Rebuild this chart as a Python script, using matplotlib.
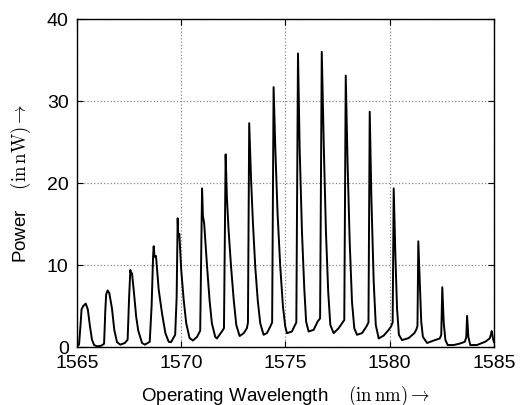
import matplotlib
matplotlib.use('Agg')
import matplotlib.pyplot as plt

plt.rcParams['font.family'] = ['Liberation Sans', 'DejaVu Sans']
plt.rcParams['mathtext.fontset'] = 'cm'

# measured spectrum: wavelength (nm) and power (nW)
wavelength = [
    1565.00, 1565.10, 1565.18, 1565.22, 1565.30, 1565.42, 1565.52, 1565.62, 1565.72, 1565.82,
    1565.96, 1566.15, 1566.30, 1566.36, 1566.40, 1566.47, 1566.55, 1566.68, 1566.79, 1566.92,
    1567.08, 1567.30, 1567.43, 1567.50, 1567.56, 1567.60, 1567.64, 1567.72, 1567.84, 1567.94,
    1568.12, 1568.26, 1568.49, 1568.58, 1568.65, 1568.68, 1568.72, 1568.79, 1568.92, 1569.08,
    1569.24, 1569.40, 1569.51, 1569.71, 1569.78, 1569.83, 1569.86, 1569.91, 1570.00, 1570.12,
    1570.24, 1570.40, 1570.56, 1570.76, 1570.91, 1570.96, 1571.00, 1571.04, 1571.10, 1571.24,
    1571.36, 1571.47, 1571.63, 1571.71, 1571.95, 1572.05, 1572.10, 1572.13, 1572.19, 1572.27,
    1572.39, 1572.52, 1572.64, 1572.80, 1573.00, 1573.15, 1573.20, 1573.26, 1573.35, 1573.44,
    1573.55, 1573.67, 1573.79, 1573.95, 1574.11, 1574.27, 1574.36, 1574.43, 1574.51, 1574.62,
    1574.75, 1574.88, 1574.99, 1575.07, 1575.31, 1575.42, 1575.52, 1575.60, 1575.68, 1575.79,
    1575.90, 1575.99, 1576.11, 1576.35, 1576.54, 1576.66, 1576.74, 1576.84, 1576.94, 1577.05,
    1577.15, 1577.31, 1577.55, 1577.71, 1577.82, 1577.89, 1577.98, 1578.08, 1578.19, 1578.30,
    1578.43, 1578.67, 1578.88, 1578.98, 1579.04, 1579.12, 1579.23, 1579.33, 1579.47, 1579.71,
    1579.95, 1580.06, 1580.14, 1580.19, 1580.27, 1580.35, 1580.44, 1580.59, 1580.91, 1581.18,
    1581.27, 1581.33, 1581.37, 1581.44, 1581.51, 1581.59, 1581.79, 1582.11, 1582.40, 1582.47,
    1582.52, 1582.59, 1582.67, 1582.78, 1583.07, 1583.39, 1583.60, 1583.67, 1583.71, 1583.77,
    1583.86, 1584.18, 1584.58, 1584.79, 1584.85, 1584.89, 1584.95, 1585.00,
]
power = [
    0.1, 0.3, 3.0, 4.6, 5.0, 5.3, 4.6, 2.6, 0.9, 0.25,
    0.1, 0.15, 0.4, 4.5, 6.4, 6.9, 6.6, 4.7, 2.1, 0.6,
    0.3, 0.5, 0.9, 6.0, 9.4, 8.9, 9.0, 7.0, 3.7, 2.0,
    0.5, 0.3, 0.65, 5.0, 11.0, 12.3, 11.0, 11.1, 7.0, 4.1,
    1.7, 0.65, 0.6, 1.5, 6.0, 15.7, 13.5, 13.8, 9.4, 5.7,
    2.9, 1.1, 0.8, 1.25, 2.0, 12.0, 19.35, 16.0, 15.1, 9.8,
    5.7, 2.9, 1.25, 1.05, 1.9, 2.3, 15.0, 23.5, 18.3, 14.3,
    9.8, 5.7, 2.7, 1.35, 1.7, 2.3, 3.0, 27.3, 20.4, 15.1,
    9.8, 5.7, 2.9, 1.5, 1.7, 2.5, 3.0, 31.7, 24.4, 16.3,
    9.8, 4.9, 2.5, 1.7, 1.9, 2.5, 3.0, 35.8, 24.2, 14.1,
    7.2, 3.1, 1.9, 2.1, 3.1, 3.5, 36.0, 24.2, 14.1, 6.7,
    2.7, 1.7, 2.3, 2.9, 3.3, 33.1, 22.2, 12.8, 5.5, 2.3,
    1.5, 1.7, 2.5, 3.0, 28.7, 18.1, 8.0, 2.7, 1.05, 1.4,
    2.1, 2.5, 3.0, 19.35, 11.2, 4.7, 1.5, 0.85, 1.1, 1.7,
    2.1, 2.6, 12.9, 8.0, 3.1, 1.25, 0.5, 0.8, 1.05, 1.5,
    7.3, 2.9, 0.85, 0.25, 0.25, 0.45, 0.65, 1.2, 3.8, 1.25,
    0.25, 0.25, 0.65, 1.05, 1.5, 1.95, 1.05, 0.6,
]

xticks = [1565, 1570, 1575, 1580, 1585]
yticks = [0, 10, 20, 30, 40]

fig = plt.figure(figsize=(5.2, 4.05), dpi=100)
ax = fig.add_axes([0.148, 0.143, 0.802, 0.81])

ax.plot(wavelength, power, color='black', lw=1.4)

ax.set_xlim(1565, 1585)
ax.set_ylim(0, 40)
ax.set_xticks(xticks)
ax.set_yticks(yticks)
ax.tick_params(direction='in', top=True, right=True, labelsize=14, length=4, pad=6)
ax.grid(True, linestyle=':', color='#888888', lw=0.9)
for s in ax.spines.values():
    s.set_linewidth(1.0)

ax.set_xlabel(r'Operating Wavelength    $(\mathrm{in\,nm})\rightarrow$', fontsize=13.5, labelpad=8)
ax.set_ylabel(r'Power    $(\mathrm{in\,nW})\rightarrow$', fontsize=13.5, labelpad=10)

fig.savefig('out.png', dpi=100)
